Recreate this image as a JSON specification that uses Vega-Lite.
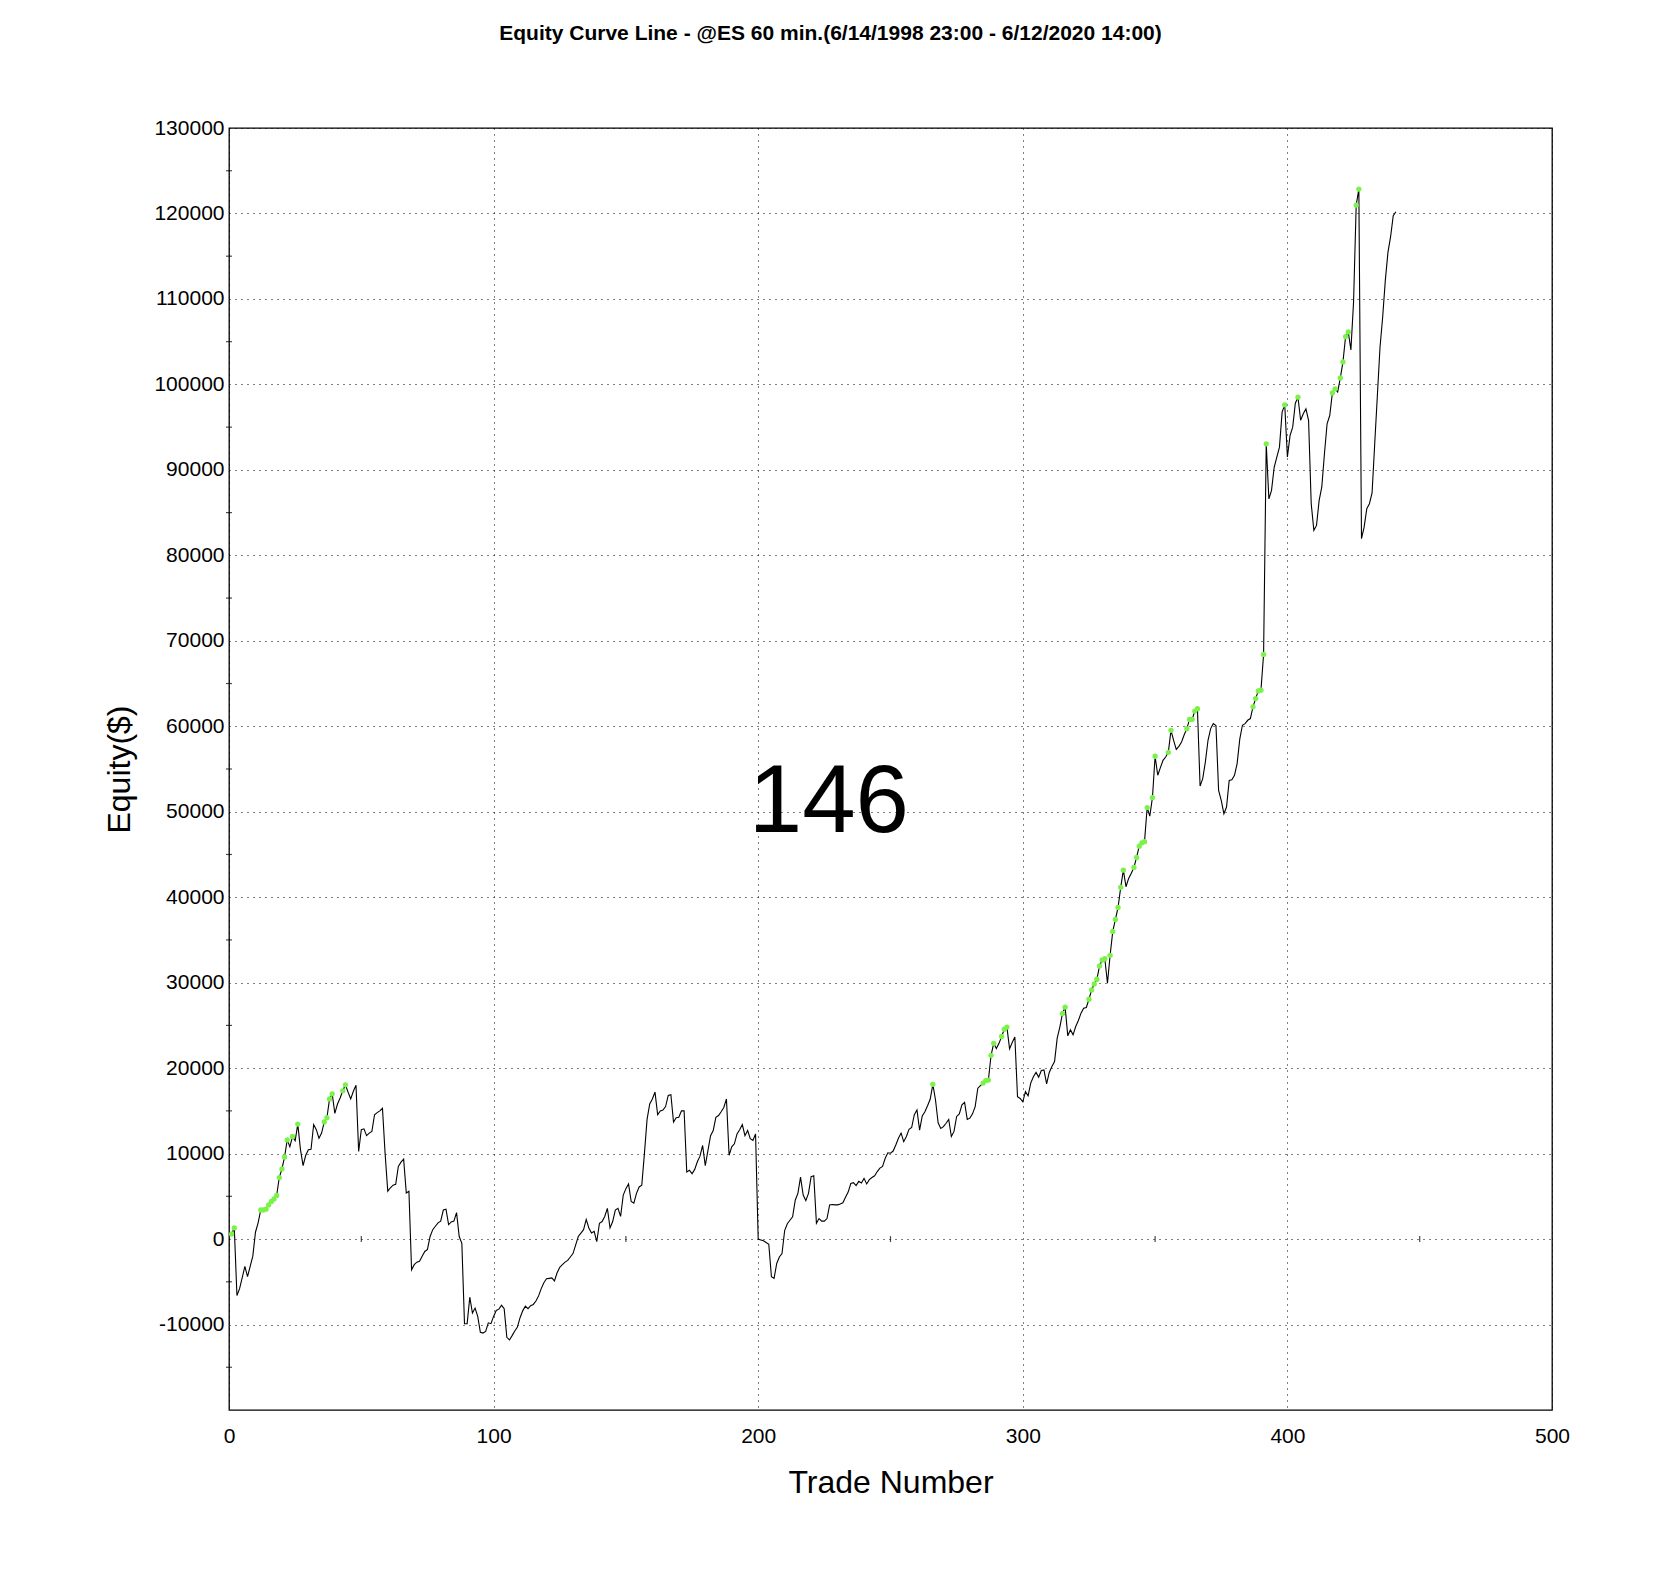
{
 "$schema": "https://vega.github.io/schema/vega-lite/v6.json",
 "autosize": {"type": "none"},
 "padding": {"left": 229, "top": 128, "right": 104, "bottom": 182},
 "width": 1323,
 "height": 1282,
 "background": "white",
 "title": {"text": "Equity Curve Line - @ES 60 min.(6/14/1998 23:00 - 6/12/2020 14:00)", "font": "Liberation Sans", "fontSize": 21, "fontWeight": "bold", "color": "black", "anchor": "middle", "frame": "group", "dx": -60, "offset": 73},
 "config": {"view": {"stroke": "black", "strokeWidth": 1.3}, "font": "Liberation Sans"},
 "datasets": {
  "eq": [
   {"t":1,"e":600,"h":1},{"t":2,"e":1300,"h":1},{"t":3,"e":-6600},{"t":4,"e":-5800},{"t":5,"e":-4500},{"t":6,"e":-3200},{"t":7,"e":-4400},{"t":8,"e":-3200},{"t":9,"e":-2000},{"t":10,"e":800},
   {"t":11,"e":1900},{"t":12,"e":3400,"h":1},{"t":13,"e":3400,"h":1},{"t":14,"e":3500,"h":1},{"t":15,"e":4000,"h":1},{"t":16,"e":4400,"h":1},{"t":17,"e":4700,"h":1},{"t":18,"e":5100,"h":1},{"t":19,"e":7200,"h":1},{"t":20,"e":8200,"h":1},
   {"t":21,"e":9600,"h":1},{"t":22,"e":11600,"h":1},{"t":23,"e":10800},{"t":24,"e":12000,"h":1},{"t":25,"e":11500},{"t":26,"e":13450,"h":1},{"t":27,"e":10500},{"t":28,"e":8600},{"t":29,"e":9800},{"t":30,"e":10450},
   {"t":31,"e":10500},{"t":32,"e":13400},{"t":33,"e":12800},{"t":34,"e":11800},{"t":35,"e":12400},{"t":36,"e":13700,"h":1},{"t":37,"e":14200,"h":1},{"t":38,"e":16400,"h":1},{"t":39,"e":17000,"h":1},{"t":40,"e":14700},
   {"t":41,"e":15800},{"t":42,"e":16500},{"t":43,"e":17350,"h":1},{"t":44,"e":18050,"h":1},{"t":45,"e":17200},{"t":46,"e":16400},{"t":47,"e":17300},{"t":48,"e":18000},{"t":49,"e":10250},{"t":50,"e":12800},
   {"t":51,"e":12900},{"t":52,"e":12100},{"t":53,"e":12400},{"t":54,"e":12600},{"t":55,"e":14550},{"t":56,"e":14800},{"t":57,"e":15000},{"t":58,"e":15300},{"t":59,"e":10000},{"t":60,"e":5600},
   {"t":61,"e":6000},{"t":62,"e":6300},{"t":63,"e":6400},{"t":64,"e":8500},{"t":65,"e":9000},{"t":66,"e":9350},{"t":67,"e":5400},{"t":68,"e":5600},{"t":69,"e":-3600},{"t":70,"e":-3000},
   {"t":71,"e":-2700},{"t":72,"e":-2600},{"t":73,"e":-2000},{"t":74,"e":-1450},{"t":75,"e":-1200},{"t":76,"e":300},{"t":77,"e":1100},{"t":78,"e":1500},{"t":79,"e":1900},{"t":80,"e":2100},
   {"t":81,"e":3400},{"t":82,"e":3500},{"t":83,"e":1700},{"t":84,"e":2000},{"t":85,"e":2100},{"t":86,"e":3100},{"t":87,"e":300},{"t":88,"e":-500},{"t":89,"e":-9900},{"t":90,"e":-9900},
   {"t":91,"e":-6800},{"t":92,"e":-8650},{"t":93,"e":-8070},{"t":94,"e":-9050},{"t":95,"e":-10900},{"t":96,"e":-11000},{"t":97,"e":-10800},{"t":98,"e":-9800},{"t":99,"e":-9900},{"t":100,"e":-9050},
   {"t":101,"e":-8350},{"t":102,"e":-8200},{"t":103,"e":-7750},{"t":104,"e":-8150},{"t":105,"e":-11500},{"t":106,"e":-11800},{"t":107,"e":-11300},{"t":108,"e":-10750},{"t":109,"e":-10300},{"t":110,"e":-9200},
   {"t":111,"e":-8400},{"t":112,"e":-7850},{"t":113,"e":-8150},{"t":114,"e":-7800},{"t":115,"e":-7650},{"t":116,"e":-7250},{"t":117,"e":-6650},{"t":118,"e":-5800},{"t":119,"e":-5100},{"t":120,"e":-4650},
   {"t":121,"e":-4600},{"t":122,"e":-4550},{"t":123,"e":-4900},{"t":124,"e":-3950},{"t":125,"e":-3300},{"t":126,"e":-3000},{"t":127,"e":-2700},{"t":128,"e":-2500},{"t":129,"e":-2100},{"t":130,"e":-1700},
   {"t":131,"e":-700},{"t":132,"e":300},{"t":133,"e":700},{"t":134,"e":1100},{"t":135,"e":2300},{"t":136,"e":1300},{"t":137,"e":700},{"t":138,"e":900},{"t":139,"e":-300},{"t":140,"e":1850},
   {"t":141,"e":2050},{"t":142,"e":2650},{"t":143,"e":3600},{"t":144,"e":1300},{"t":145,"e":2050},{"t":146,"e":3400},{"t":147,"e":3600},{"t":148,"e":2650},{"t":149,"e":5150},{"t":150,"e":5900},
   {"t":151,"e":6450},{"t":152,"e":4400},{"t":153,"e":4200},{"t":154,"e":5350},{"t":155,"e":6100},{"t":156,"e":6300},{"t":157,"e":10000},{"t":158,"e":14000},{"t":159,"e":15800},{"t":160,"e":16400},
   {"t":161,"e":17200},{"t":162,"e":14550},{"t":163,"e":15000},{"t":164,"e":15100},{"t":165,"e":15500},{"t":166,"e":16800},{"t":167,"e":16900},{"t":168,"e":13700},{"t":169,"e":14200},{"t":170,"e":14250},
   {"t":171,"e":15000},{"t":172,"e":15000},{"t":173,"e":7850},{"t":174,"e":8050},{"t":175,"e":7650},{"t":176,"e":8150},{"t":177,"e":9050},{"t":178,"e":9700},{"t":179,"e":10950},{"t":180,"e":8600},
   {"t":181,"e":10350},{"t":182,"e":12100},{"t":183,"e":12700},{"t":184,"e":14250},{"t":185,"e":14450},{"t":186,"e":14900},{"t":187,"e":15400},{"t":188,"e":16400},{"t":189,"e":9800},{"t":190,"e":10800},
   {"t":191,"e":11150},{"t":192,"e":12300},{"t":193,"e":12800},{"t":194,"e":13400},{"t":195,"e":12100},{"t":196,"e":12700},{"t":197,"e":11750},{"t":198,"e":11550},{"t":199,"e":12300},{"t":200,"e":0},
   {"t":201,"e":-100},{"t":202,"e":-200},{"t":203,"e":-400},{"t":204,"e":-600},{"t":205,"e":-4400},{"t":206,"e":-4600},{"t":207,"e":-2850},{"t":208,"e":-2100},{"t":209,"e":-1700},{"t":210,"e":1000},
   {"t":211,"e":1800},{"t":212,"e":2200},{"t":213,"e":2600},{"t":214,"e":4550},{"t":215,"e":5350},{"t":216,"e":7250},{"t":217,"e":5150},{"t":218,"e":4500},{"t":219,"e":5350},{"t":220,"e":7300},
   {"t":221,"e":7400},{"t":222,"e":1850},{"t":223,"e":2400},{"t":224,"e":2100},{"t":225,"e":2100},{"t":226,"e":2400},{"t":227,"e":4000},{"t":228,"e":4050},{"t":229,"e":4000},{"t":230,"e":4000},
   {"t":231,"e":4100},{"t":232,"e":4250},{"t":233,"e":4900},{"t":234,"e":5500},{"t":235,"e":6500},{"t":236,"e":6600},{"t":237,"e":6250},{"t":238,"e":6750},{"t":239,"e":6550},{"t":240,"e":7100},
   {"t":241,"e":6450},{"t":242,"e":6950},{"t":243,"e":7200},{"t":244,"e":7400},{"t":245,"e":7900},{"t":246,"e":8300},{"t":247,"e":8500},{"t":248,"e":9450},{"t":249,"e":10100},{"t":250,"e":10050},
   {"t":251,"e":10300},{"t":252,"e":11000},{"t":253,"e":11800},{"t":254,"e":12400},{"t":255,"e":11400},{"t":256,"e":12000},{"t":257,"e":12850},{"t":258,"e":13050},{"t":259,"e":14550},{"t":260,"e":15100},
   {"t":261,"e":12750},{"t":262,"e":14400},{"t":263,"e":14900},{"t":264,"e":15600},{"t":265,"e":16350},{"t":266,"e":18100,"h":1},{"t":267,"e":16300},{"t":268,"e":13600},{"t":269,"e":12950},{"t":270,"e":13150},
   {"t":271,"e":13550},{"t":272,"e":14000},{"t":273,"e":12000},{"t":274,"e":12600},{"t":275,"e":14350},{"t":276,"e":14650},{"t":277,"e":15700},{"t":278,"e":16000},{"t":279,"e":14000},{"t":280,"e":14150},
   {"t":281,"e":14650},{"t":282,"e":15500},{"t":283,"e":17650},{"t":284,"e":17950},{"t":285,"e":18250,"h":1},{"t":286,"e":18550,"h":1},{"t":287,"e":18600,"h":1},{"t":288,"e":21500,"h":1},{"t":289,"e":22900,"h":1},{"t":290,"e":22300},
   {"t":291,"e":22900},{"t":292,"e":23700,"h":1},{"t":293,"e":24550,"h":1},{"t":294,"e":24800,"h":1},{"t":295,"e":22250},{"t":296,"e":23000},{"t":297,"e":23650},{"t":298,"e":16650},{"t":299,"e":16450},{"t":300,"e":16050},
   {"t":301,"e":17250},{"t":302,"e":16770},{"t":303,"e":18250},{"t":304,"e":19000},{"t":305,"e":19500},{"t":306,"e":18950},{"t":307,"e":19730},{"t":308,"e":19800},{"t":309,"e":18170},{"t":310,"e":19500},
   {"t":311,"e":20200},{"t":312,"e":20780},{"t":313,"e":23500},{"t":314,"e":24800},{"t":315,"e":26400,"h":1},{"t":316,"e":27130,"h":1},{"t":317,"e":23780},{"t":318,"e":24500},{"t":319,"e":23900},{"t":320,"e":24870},
   {"t":321,"e":25570},{"t":322,"e":26430},{"t":323,"e":27000},{"t":324,"e":27100},{"t":325,"e":28060,"h":1},{"t":326,"e":29150,"h":1},{"t":327,"e":29850,"h":1},{"t":328,"e":30400,"h":1},{"t":329,"e":31950,"h":1},{"t":330,"e":32650,"h":1},
   {"t":331,"e":32800,"h":1},{"t":332,"e":29930},{"t":333,"e":33200,"h":1},{"t":334,"e":36000,"h":1},{"t":335,"e":37400,"h":1},{"t":336,"e":38800,"h":1},{"t":337,"e":41150,"h":1},{"t":338,"e":43170,"h":1},{"t":339,"e":41220},{"t":340,"e":42200},
   {"t":341,"e":42800},{"t":342,"e":43480,"h":1},{"t":343,"e":44650,"h":1},{"t":344,"e":45970,"h":1},{"t":345,"e":46360,"h":1},{"t":346,"e":46500,"h":1},{"t":347,"e":50490,"h":1},{"t":348,"e":49480},{"t":349,"e":51660,"h":1},{"t":350,"e":56490,"h":1},
   {"t":351,"e":54270},{"t":352,"e":55160},{"t":353,"e":56020},{"t":354,"e":56400},{"t":355,"e":56950,"h":1},{"t":356,"e":59520,"h":1},{"t":357,"e":58360},{"t":358,"e":57300},{"t":359,"e":57650},{"t":360,"e":58160},
   {"t":361,"e":59000},{"t":362,"e":59720,"h":1},{"t":363,"e":60800,"h":1},{"t":364,"e":60810,"h":1},{"t":365,"e":61780,"h":1},{"t":366,"e":62060,"h":1},{"t":367,"e":53000},{"t":368,"e":53880},{"t":369,"e":55830},{"t":370,"e":58360},
   {"t":371,"e":59730},{"t":372,"e":60310},{"t":373,"e":60080},{"t":374,"e":52500},{"t":375,"e":51330},{"t":376,"e":49770},{"t":377,"e":50550},{"t":378,"e":53670},{"t":379,"e":53750},{"t":380,"e":54260},
   {"t":381,"e":55630},{"t":382,"e":58500},{"t":383,"e":60120},{"t":384,"e":60310},{"t":385,"e":60700},{"t":386,"e":60900},{"t":387,"e":62270,"h":1},{"t":388,"e":63240,"h":1},{"t":389,"e":64140,"h":1},{"t":390,"e":64220,"h":1},
   {"t":391,"e":68400,"h":1},{"t":392,"e":93050,"h":1},{"t":393,"e":86600},{"t":394,"e":87600},{"t":395,"e":90300},{"t":396,"e":91500},{"t":397,"e":92660},{"t":398,"e":96750},{"t":399,"e":97600,"h":1},{"t":400,"e":91500},
   {"t":401,"e":94000},{"t":402,"e":95000},{"t":403,"e":97800},{"t":404,"e":98500,"h":1},{"t":405,"e":95800},{"t":406,"e":96560},{"t":407,"e":97140},{"t":408,"e":95800},{"t":409,"e":86040},{"t":410,"e":82920},
   {"t":411,"e":83500},{"t":412,"e":86430},{"t":413,"e":88000},{"t":414,"e":91880},{"t":415,"e":95390},{"t":416,"e":96360},{"t":417,"e":99000,"h":1},{"t":418,"e":99480,"h":1},{"t":419,"e":99100},{"t":420,"e":100760,"h":1},
   {"t":421,"e":102630,"h":1},{"t":422,"e":105600,"h":1},{"t":423,"e":106140,"h":1},{"t":424,"e":104040},{"t":425,"e":109600},{"t":426,"e":120980,"h":1},{"t":427,"e":122850,"h":1},{"t":428,"e":81950},{"t":429,"e":83300},{"t":430,"e":85450},
   {"t":431,"e":86040},{"t":432,"e":87300},{"t":433,"e":93050},{"t":434,"e":98700},{"t":435,"e":104350},{"t":436,"e":107850},{"t":437,"e":112140},{"t":438,"e":115450},{"t":439,"e":117280},{"t":440,"e":119730},
   {"t":441,"e":120200}
  ],
  "yminor": [{"v":-15000},{"v":-5000},{"v":5000},{"v":15000},{"v":25000},{"v":35000},{"v":45000},{"v":55000},{"v":65000},{"v":75000},{"v":85000},{"v":95000},{"v":105000},{"v":115000},{"v":125000}],
  "xminor": [{"v":50},{"v":150},{"v":250},{"v":350},{"v":450}],
  "note": [{"label":"146","t":226.7,"e":51000}]
 },
 "layer": [
  {
   "data": {"name": "eq"},
   "mark": {"type": "line", "color": "black", "strokeWidth": 1.1},
   "encoding": {
    "x": {"field": "t", "type": "quantitative",
     "scale": {"domain": [0, 500], "nice": false, "zero": false},
     "axis": {"values": [0, 100, 200, 300, 400, 500], "grid": true, "gridColor": "black", "gridDash": [1, 5], "gridWidth": 1, "gridOpacity": 1,
      "ticks": false, "domain": false, "labelFont": "Liberation Sans", "labelFontSize": 21, "labelColor": "black", "labelPadding": 15, "labelFlush": false, "labelOverlap": false, "labelBound": false,
      "title": "Trade Number", "titleFont": "Liberation Sans", "titleFontSize": 32, "titleFontWeight": "normal", "titleColor": "black", "titleX": 661.5, "titleY": 82, "titleAlign": "center", "titleBaseline": "alphabetic"}},
    "y": {"field": "e", "type": "quantitative",
     "scale": {"domain": [-20000, 130000], "nice": false, "zero": false},
     "axis": {"values": [-10000, 0, 10000, 20000, 30000, 40000, 50000, 60000, 70000, 80000, 90000, 100000, 110000, 120000, 130000], "labelExpr": "'' + datum.value", "grid": true, "gridColor": "black", "gridDash": [1, 5], "gridWidth": 1, "gridOpacity": 1,
      "ticks": false, "domain": false, "labelFont": "Liberation Sans", "labelFontSize": 21, "labelColor": "black", "labelPadding": 5, "labelFlush": false, "labelOverlap": false, "labelBound": false, "labelBaseline": "middle",
      "title": "Equity($)", "titleFont": "Liberation Sans", "titleFontSize": 32, "titleFontWeight": "normal", "titleColor": "black", "titleX": -100, "titleY": 641, "titleAngle": 270, "titleAlign": "center", "titleBaseline": "alphabetic"}}
   }
  },
  {
   "mark": {"type": "rule", "color": "black", "strokeWidth": 1.2},
   "encoding": {"y": {"datum": 0}}
  },
  {
   "data": {"name": "yminor"},
   "mark": {"type": "tick", "orient": "horizontal", "size": 6, "thickness": 1.2, "color": "black"},
   "encoding": {"x": {"datum": 0}, "y": {"field": "v", "type": "quantitative"}}
  },
  {
   "data": {"name": "xminor"},
   "mark": {"type": "tick", "orient": "vertical", "size": 6, "thickness": 1.2, "color": "black"},
   "encoding": {"x": {"field": "v", "type": "quantitative"}, "y": {"datum": 0}}
  },
  {
   "data": {"name": "eq"},
   "transform": [{"filter": "datum.h == 1"}],
   "mark": {"type": "circle", "size": 28, "color": "#7af24a", "opacity": 1},
   "encoding": {"x": {"field": "t", "type": "quantitative"}, "y": {"field": "e", "type": "quantitative"}}
  },
  {
   "data": {"name": "note"},
   "mark": {"type": "text", "font": "Liberation Sans", "fontSize": 96, "color": "black", "align": "center", "baseline": "middle"},
   "encoding": {"x": {"field": "t", "type": "quantitative"}, "y": {"field": "e", "type": "quantitative"}, "text": {"field": "label", "type": "nominal"}}
  }
 ]
}
